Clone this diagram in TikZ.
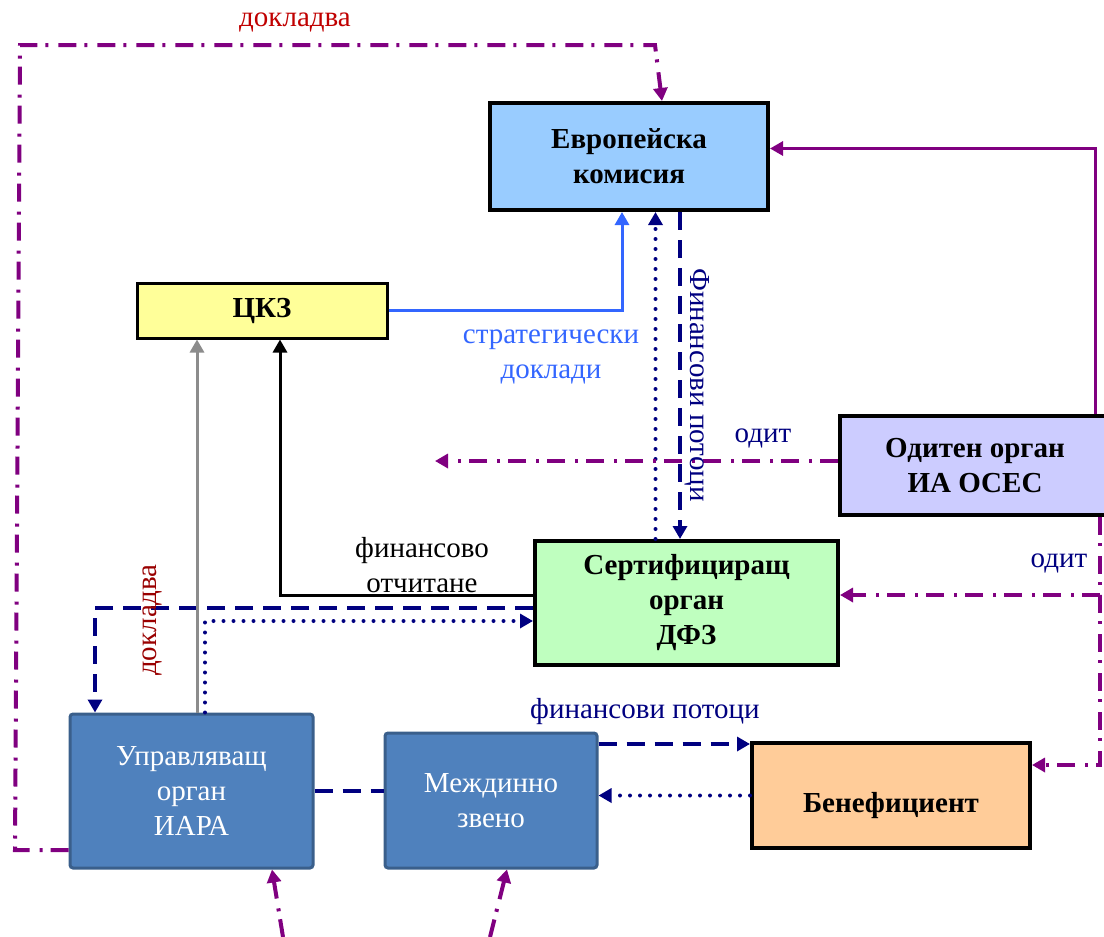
\documentclass[tikz,border=0pt]{standalone}
\usepackage{fontspec}
\setmainfont{Liberation Serif}
\usetikzlibrary{arrows.meta, calc}

\definecolor{ekblue}{HTML}{99CCFF}
\definecolor{ckzyellow}{HTML}{FFFF99}
\definecolor{auditlilac}{HTML}{CCCCFF}
\definecolor{certgreen}{HTML}{BFFFBF}
\definecolor{benorange}{HTML}{FFCC99}
\definecolor{orgblue}{HTML}{4F81BD}
\definecolor{orgedge}{HTML}{3A5F8B}
\definecolor{flownavy}{HTML}{000080}
\definecolor{auditpurple}{HTML}{800080}
\definecolor{stratblue}{HTML}{3366FF}
\definecolor{reportred}{HTML}{C00000}
\definecolor{reportdark}{HTML}{990000}
\definecolor{reportgray}{HTML}{8C8C8C}

\newcommand{\diagfont}{\fontsize{14.5}{17.5}\selectfont}

\tikzset{
  keybox/.style={align=center, draw=black, line width=2pt, font=\diagfont\bfseries, inner sep=0pt},
  orgbox/.style={align=center, draw=orgedge, line width=1.5pt, fill=orgblue, text=white,
    rounded corners=1.5pt, inner sep=0pt},
  arrowtip/.style={-{Triangle[length=6.5pt,width=7pt]}},
  flowdash/.style={draw=flownavy, line width=2pt, dash pattern=on 9pt off 5pt},
  flowdot/.style={draw=flownavy, line width=2pt, line cap=round, dash pattern=on 0pt off 5pt},
  auditline/.style={draw=auditpurple, line width=2pt, dash pattern=on 9pt off 4pt on 1.5pt off 5pt},
  auditsolid/.style={draw=auditpurple, line width=1.5pt},
  repline/.style={draw=black, line width=1.5pt},
  grayline/.style={draw=reportgray, line width=1.5pt},
  stratline/.style={draw=stratblue, line width=1.5pt}
}

\begin{document}
\begin{tikzpicture}[x=0.5pt, y=-0.5pt, font=\diagfont]

\useasboundingbox (0,0) rectangle (1104,937);

% boxes
\node (ek) at (629,156.5) [keybox, fill=ekblue, minimum width=139pt, minimum height=53.5pt]
{Европейска\\комисия};
\node (ckz) at (262,310.5) [keybox, line width=1.5pt, fill=ckzyellow, minimum width=125pt, minimum height=27.5pt]
{ЦКЗ};
\node (audit) at (975,465.5) [keybox, fill=auditlilac, minimum width=135pt, minimum height=49.5pt]
{Одитен орган\\ИА ОСЕС};
\node (sert) at (686.5,603) [keybox, fill=certgreen, minimum width=151.5pt, minimum height=62pt]
{Сертифициращ\\орган\\ДФЗ};
\node (ben) at (891,795.5) [keybox, fill=benorange, minimum width=139pt, minimum height=52.5pt,
  text height=20pt, text depth=3pt]
{Бенефициент};
\node (iara) at (191.5,791) [orgbox, minimum width=121.5pt, minimum height=77pt]
{Управляващ\\орган\\ИАРА};
\node (inter) at (491,800.5) [orgbox, minimum width=106pt, minimum height=67.5pt]
{Междинно\\звено};

% helper points
\coordinate (stratend) at ($(ek.south)+(-7,0)$);
\coordinate (certup) at ($(sert.north)+(-31,0)$);
\coordinate (ekdown) at ($(ek.south)+(51,0)$);
\coordinate (auditup) at ($(audit.north)+(120,0)$);
\coordinate (ekaudit) at ($(ek.east)+(0,-8)$);
\coordinate (auditstart) at ($(audit.west)+(0,-4.5)$);
\coordinate (auditend) at (435,461);
\coordinate (auditdown) at ($(audit.south)+(125,0)$);
\coordinate (finrep) at ($(sert.west)+(0,-8)$);
\coordinate (grayup) at ($(iara.north)+(5.5,0)$);
\coordinate (fincom) at ($(inter.east)+(0,-56.5)$);
\coordinate (iarareport) at ($(iara.west)+(0,59)$);
\coordinate (loopbl) at (15,850);
\coordinate (looptl) at (20,45);
\coordinate (looptr) at (655,45);
\coordinate (iarain) at (283,937);
\coordinate (interin) at (490,937);

% connectors
\draw[stratline, arrowtip] (ckz.east) -| (stratend);
\draw[flowdot, arrowtip] (certup) -- (certup |- ek.south);
\draw[flowdash, arrowtip] (ekdown) -- (ekdown |- sert.north);
\draw[auditsolid, arrowtip] (auditup) |- (ekaudit);
\draw[auditline, arrowtip] (auditstart) -- (auditstart -| auditend);
\draw[auditline, arrowtip] (auditdown) |- ($(sert.east)+(0,-8)$);
\draw[auditline, arrowtip] (auditdown) |- ($(ben.east)+(0,-30.5)$);
\draw[repline, arrowtip] (finrep) -| ($(ckz.south)+(18,0)$);
\draw[flowdash, arrowtip] ($(sert.west)+(0,5)$) -| ($(iara.north)+(-96.5,0)$);
\draw[flowdot, arrowtip] ($(iara.north)+(13.5,0)$) |- ($(sert.west)+(0,18)$);
\draw[grayline, arrowtip] (grayup) -- (grayup |- ckz.south);
\draw[flowdash] (iara.east) -- (iara.east -| inter.west);
\draw[flowdash, arrowtip] (fincom) -- (fincom -| ben.west);
\draw[flowdot, arrowtip] (ben.west) -- (ben.west -| inter.east);
\draw[auditline, arrowtip] (iarareport) -- (loopbl) -- (looptl) -- (looptr) -- ($(ek.north)+(33,0)$);
\draw[auditline, arrowtip] (iarain) -- ($(iara.south)+(80.5,0)$);
\draw[auditline, arrowtip] (interin) -- ($(inter.south)+(16,0)$);

% labels
\node (toprep) at (295,22) [text=reportred] {докладва};
\node (siderep) at (152,620) [rotate=90, text=reportdark] {докладва};
\node (stratlabel) at (551,356.5) [align=center, text=stratblue] {стратегически\\доклади};
\node (flowvert) at (697,385) [rotate=-90, text=flownavy] {Финансови потоци};
\node (auditlabel) at (763,438) [text=flownavy] {одит};
\node (auditlabelb) at (1059,563) [text=flownavy] {одит};
\node (finlabel) at (422,565.5) [align=center] {финансово\\отчитане};
\node (flowhor) at (645,712) [text=flownavy] {финансови потоци};

\end{tikzpicture}
\end{document}
